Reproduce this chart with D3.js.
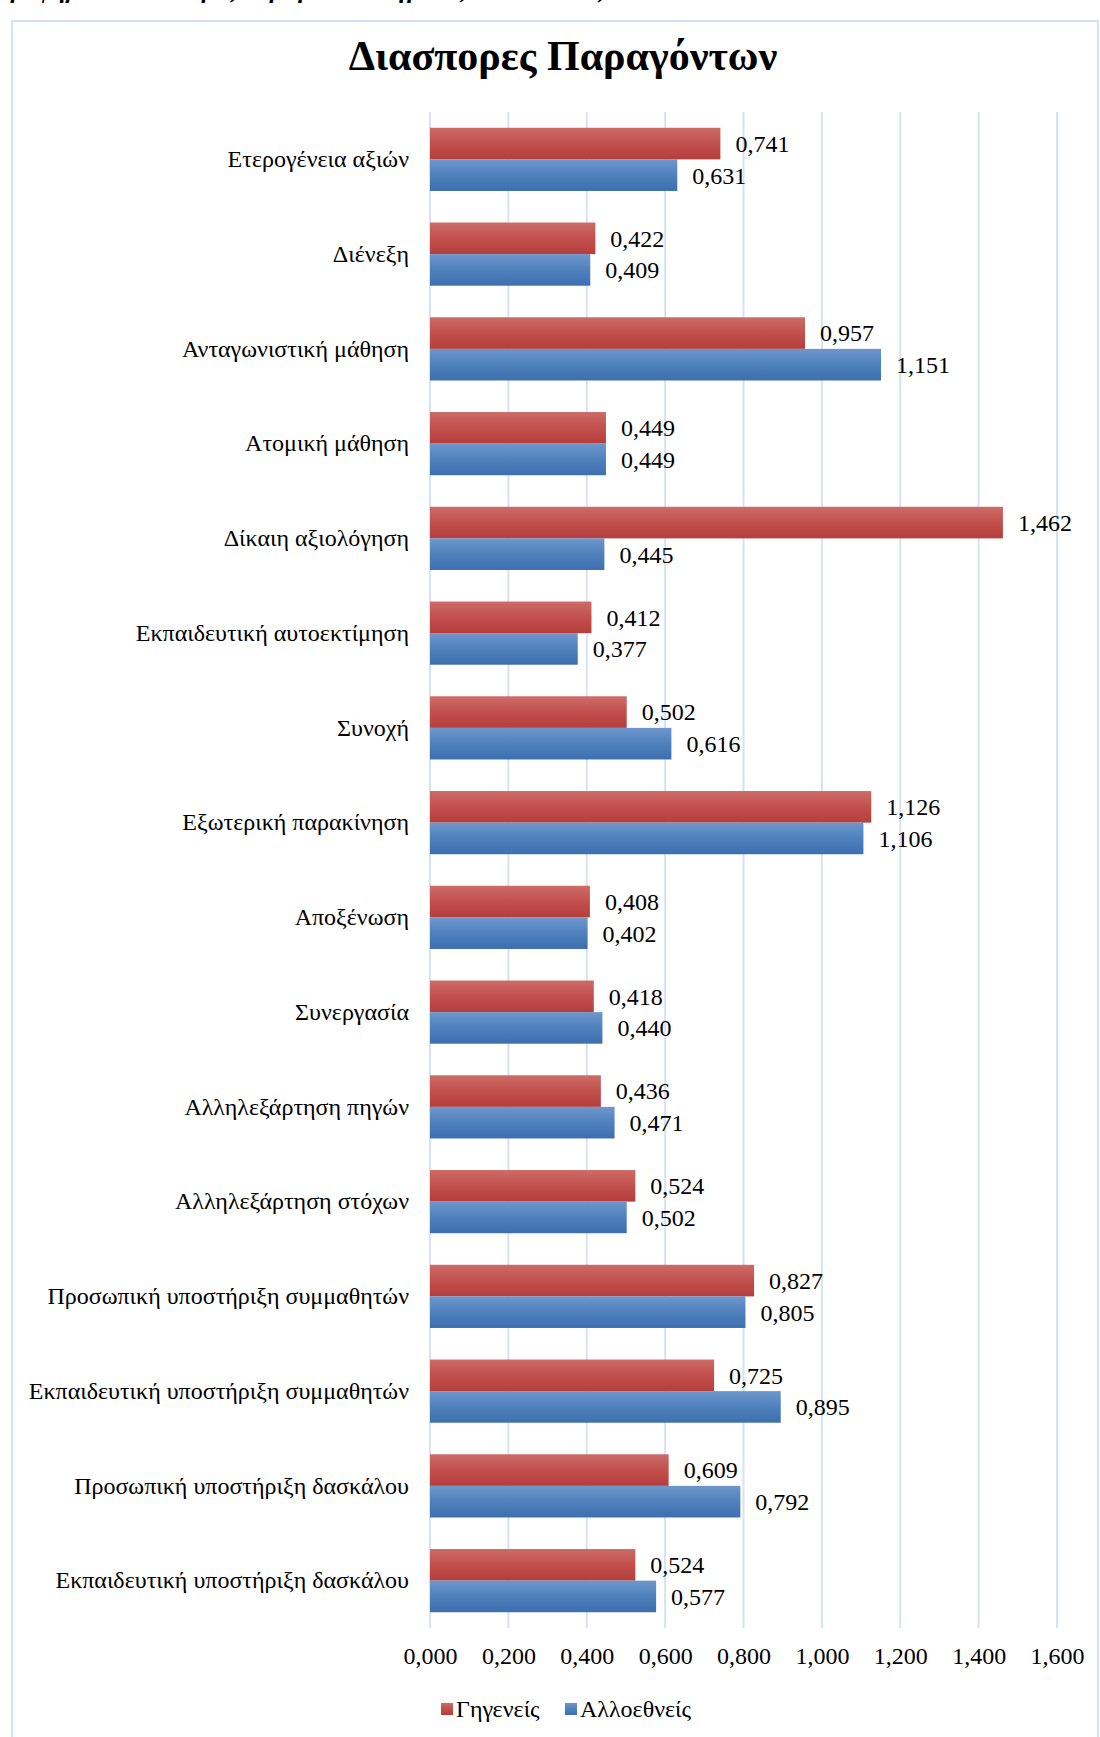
<!DOCTYPE html>
<html><head><meta charset="utf-8">
<script src="https://cdn.jsdelivr.net/npm/d3@7"></script>
<style>
html,body{margin:0;padding:0;background:#fff;}
svg{display:block;}
</style></head>
<body>
<svg id="chart" width="1100" height="1737"></svg>
<script>
const categories = [
  "Ετερογένεια αξιών",
  "Διένεξη",
  "Ανταγωνιστική μάθηση",
  "Ατομική μάθηση",
  "Δίκαιη αξιολόγηση",
  "Εκπαιδευτική αυτοεκτίμηση",
  "Συνοχή",
  "Εξωτερική παρακίνηση",
  "Αποξένωση",
  "Συνεργασία",
  "Αλληλεξάρτηση πηγών",
  "Αλληλεξάρτηση στόχων",
  "Προσωπική υποστήριξη συμμαθητών",
  "Εκπαιδευτική υποστήριξη συμμαθητών",
  "Προσωπική υποστήριξη δασκάλου",
  "Εκπαιδευτική υποστήριξη δασκάλου"
];
const native = [0.741,0.422,0.957,0.449,1.462,0.412,0.502,1.126,0.408,0.418,0.436,0.524,0.827,0.725,0.609,0.524];
const foreign = [0.631,0.409,1.151,0.449,0.445,0.377,0.616,1.106,0.402,0.440,0.471,0.502,0.805,0.895,0.792,0.577];
const seriesNames = ["Γηγενείς","Αλλοεθνείς"];
const xTicks = [0,0.2,0.4,0.6,0.8,1.0,1.2,1.4,1.6];
const title = "Διασπορες Παραγόντων";
const caption = "Γράφημα 4: Διασπορές παραγόντων Γηγενείς – Αλλοεθνείς";

const svg = d3.select("#chart");
const W = 1100, H = 1737;
const plot = {left: 430, right: 1057, top: 112, bottom: 1628};
const FONT = "Liberation Serif";
const fmt = v => d3.format(".3f")(v).replace(".", ",");

const defs = svg.append("defs");
function grad(id, stops){
  const g = defs.append("linearGradient").attr("id", id).attr("x1",0).attr("y1",0).attr("x2",0).attr("y2",1);
  stops.forEach(s => g.append("stop").attr("offset", s[0]).attr("stop-color", s[1]));
}
grad("gRed", [[0,"#cd6b68"],[0.5,"#c2504d"],[1,"#b53e3b"]]);
grad("gBlue", [[0,"#6e96cc"],[0.5,"#4f81bd"],[1,"#3d6fb0"]]);

// caption (cut off at top, as in the reference)
svg.append("text").attr("x", -4).attr("y", -2)
  .attr("font-family", FONT).attr("font-style","italic").attr("font-weight","bold")
  .attr("font-size", 25).attr("fill","#000").text(caption);

// frame
svg.append("rect").attr("x", 12).attr("y", 21).attr("width", W - 14).attr("height", H)
  .attr("fill", "#fff").attr("stroke", "#d3e1f2").attr("stroke-width", 2);

// title
svg.append("text").attr("x", 563).attr("y", 70).attr("text-anchor","middle")
  .attr("font-family", FONT).attr("font-weight","bold").attr("font-size", 42)
  .attr("fill","#000").text(title);

const x = d3.scaleLinear().domain([0, 1.6]).range([plot.left, plot.right]);
const y = d3.scaleBand().domain(categories).range([plot.top, plot.bottom]).paddingInner(0.333).paddingOuter(0.1665);
const sub = d3.scaleBand().domain(seriesNames).range([0, y.bandwidth()]);

// gridlines
svg.append("g").selectAll("line").data(xTicks).join("line")
  .attr("x1", d => x(d)).attr("x2", d => x(d))
  .attr("y1", plot.top).attr("y2", plot.bottom)
  .attr("stroke", "#d6e2f2").attr("stroke-width", 2);

// x axis labels
const xAxis = d3.axisBottom(x).tickValues(xTicks).tickFormat(fmt).tickSize(0).tickPadding(0);
const gx = svg.append("g").attr("transform", `translate(0,${plot.bottom + 19})`).call(xAxis);
gx.select(".domain").remove();
gx.selectAll("text").attr("font-family", FONT).attr("font-size", 24).attr("fill","#000").attr("dy","0.71em");

// y axis labels
const yAxis = d3.axisLeft(y).tickSize(0).tickPadding(21);
const gy = svg.append("g").attr("transform", `translate(${plot.left},0)`).call(yAxis);
gy.select(".domain").remove();
gy.selectAll("text").attr("font-family", FONT).attr("font-size", 24).attr("fill","#000");

const rows = categories.map((c, i) => ({cat: c, vals: [native[i], foreign[i]]}));
const fills = ["url(#gRed)", "url(#gBlue)"];
const grp = svg.append("g").selectAll("g").data(rows).join("g")
  .attr("transform", d => `translate(0,${y(d.cat)})`);
grp.selectAll("rect").data(d => d.vals.map((v, j) => ({v, s: seriesNames[j], j}))).join("rect")
  .attr("x", x(0)).attr("y", d => sub(d.s))
  .attr("width", d => x(d.v) - x(0)).attr("height", sub.bandwidth())
  .attr("fill", d => fills[d.j]);
grp.selectAll("text").data(d => d.vals.map((v, j) => ({v, s: seriesNames[j], j}))).join("text")
  .attr("x", d => x(d.v) + 15).attr("y", d => sub(d.s) + sub.bandwidth() / 2)
  .attr("dy", "0.35em")
  .attr("font-family", FONT).attr("font-size", 24).attr("fill","#000")
  .text(d => fmt(d.v));

// legend
const legend = svg.append("g").attr("transform", "translate(441,1709)");
const lx = [0, 124];
seriesNames.forEach((n, i) => {
  legend.append("rect").attr("x", lx[i]).attr("y", -6).attr("width", 12).attr("height", 12).attr("fill", fills[i]);
  legend.append("text").attr("x", lx[i] + 15).attr("y", 0).attr("dy","0.35em")
    .attr("font-family", FONT).attr("font-size", 24).attr("fill","#000").text(n);
});
</script>
</body></html>
